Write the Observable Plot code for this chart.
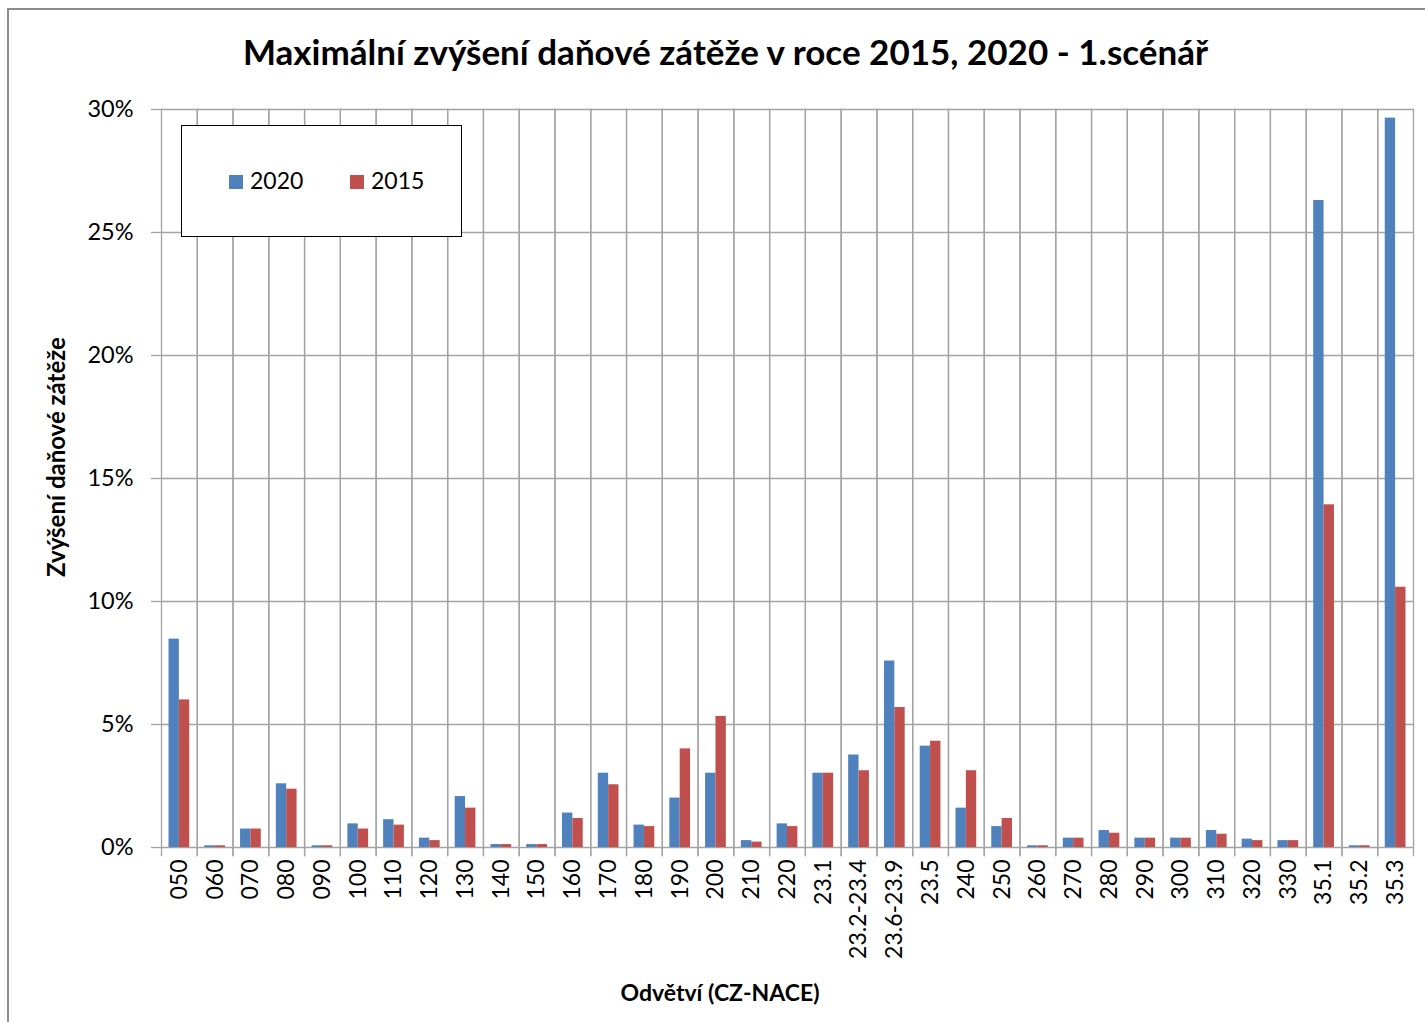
<!DOCTYPE html>
<html>
<head>
<meta charset="utf-8">
<script src="https://cdn.jsdelivr.net/npm/d3@7"></script>
<script src="https://cdn.jsdelivr.net/npm/@observablehq/plot@0.6"></script>
<style>
  html, body { margin: 0; padding: 0; background: #fff; }
  body { width: 1425px; height: 1022px; position: relative; overflow: hidden; font-family: Lato, "Open Sans", sans-serif; }
  #border { position: absolute; left: 7px; top: 8px; right: -5px; bottom: -5px; border-left: 2px solid #8c8c8c; border-top: 2px solid #8c8c8c; pointer-events: none; }
  #title { height: 90px; box-sizing: border-box; padding-top: 31px; padding-left: 26px; text-align: center; font-weight: bold; font-size: 35px; line-height: 40px; color: #000; }
  #xtitle { position: absolute; left: 0; width: 1440px; top: 978px; text-align: center; font-weight: bold; font-size: 23px; line-height: 28px; color: #000; }
  #ytitle { position: absolute; left: -144px; top: 443px; width: 400px; height: 28px; text-align: center; font-weight: bold; font-size: 24px; line-height: 28px; color: #000; transform: rotate(-90deg); transform-origin: 200px 14px; }
  #legend { position: absolute; left: 181px; top: 125px; width: 279px; height: 110px; border: 1px solid #000; background: #fff; }
  .li { position: absolute; top: 41px; font-size: 23px; line-height: 26px; color: #000; }
  .sw { display: inline-block; width: 14px; height: 14px; margin-right: 7px; vertical-align: 0px; }
</style>
</head>
<body>
<div id="border"></div>
<div id="title">Maximální zvýšení daňové zátěže v roce 2015, 2020 - 1.scénář</div>
<div id="chart"></div>
<div id="xtitle">Odvětví (CZ-NACE)</div>
<div id="ytitle">Zvýšení daňové zátěže</div>
<div id="legend"></div>
<script>
const categories = ["050","060","070","080","090","100","110","120","130","140","150","160","170","180","190","200","210","220","23.1","23.2-23.4","23.6-23.9","23.5","240","250","260","270","280","290","300","310","320","330","35.1","35.2","35.3"];
const series = ["2020", "2015"];
const values2020 = [8.47,0.07,0.75,2.59,0.07,0.96,1.13,0.38,2.07,0.12,0.12,1.40,3.02,0.91,2.01,3.02,0.28,0.96,3.02,3.76,7.58,4.12,1.60,0.85,0.07,0.38,0.69,0.38,0.38,0.69,0.34,0.28,26.30,0.07,29.65];
const values2015 = [6.00,0.07,0.75,2.37,0.07,0.75,0.91,0.28,1.60,0.12,0.12,1.18,2.55,0.85,4.01,5.33,0.22,0.85,3.02,3.12,5.69,4.32,3.12,1.18,0.07,0.38,0.58,0.38,0.38,0.54,0.28,0.28,13.93,0.07,10.58];
const yTicks = [0, 5, 10, 15, 20, 25, 30];
const colors = ["#4F81BD", "#C0504D"];

const rows = categories.flatMap((c, i) => [
  {cat: c, series: series[0], value: values2020[i]},
  {cat: c, series: series[1], value: values2015[i]}
]);

const grid = "#a3a3a3";

const chart = Plot.plot({
  width: 1425,
  height: 932,
  marginLeft: 161,
  marginRight: 12,
  marginTop: 19,
  marginBottom: 175,
  style: {fontFamily: "Lato, 'Open Sans', sans-serif", fontSize: "23px", color: "#000", background: "transparent", overflow: "visible"},
  fx: {domain: categories, padding: 0, round: false},
  x: {domain: series, paddingInner: 0, paddingOuter: 0.725, axis: null, round: false},
  y: {domain: [0, 30]},
  color: {domain: series, range: colors},
  marks: [
    Plot.gridY({ticks: yTicks, stroke: grid, strokeOpacity: 1, strokeWidth: 1.3}),
    Plot.frame({anchor: "left", stroke: grid, strokeWidth: 1.3, insetBottom: -8}),
    Plot.frame({anchor: "right", stroke: grid, strokeWidth: 1.3, insetBottom: -8}),
    Plot.barY(rows, {fx: "cat", x: "series", y: "value", fill: "series"}),
    Plot.axisY({ticks: yTicks, tickFormat: d => d + "%", tickSize: 10, tickPadding: 18, stroke: grid, strokeWidth: 1.3,
      label: null, fontSize: 23.5}),
    Plot.axisFx({anchor: "bottom", tickRotate: -90, tickSize: 0, tickPadding: 12, label: null, fontSize: 23})
  ]
});
document.getElementById("chart").appendChild(chart);

const legend = document.getElementById("legend");
const lx = [47, 168];
series.forEach((s, i) => {
  const item = document.createElement("div");
  item.className = "li";
  item.style.left = lx[i] + "px";
  item.innerHTML = `<span class="sw" style="background:${colors[i]}"></span>${s}`;
  legend.appendChild(item);
});
</script>
</body>
</html>
